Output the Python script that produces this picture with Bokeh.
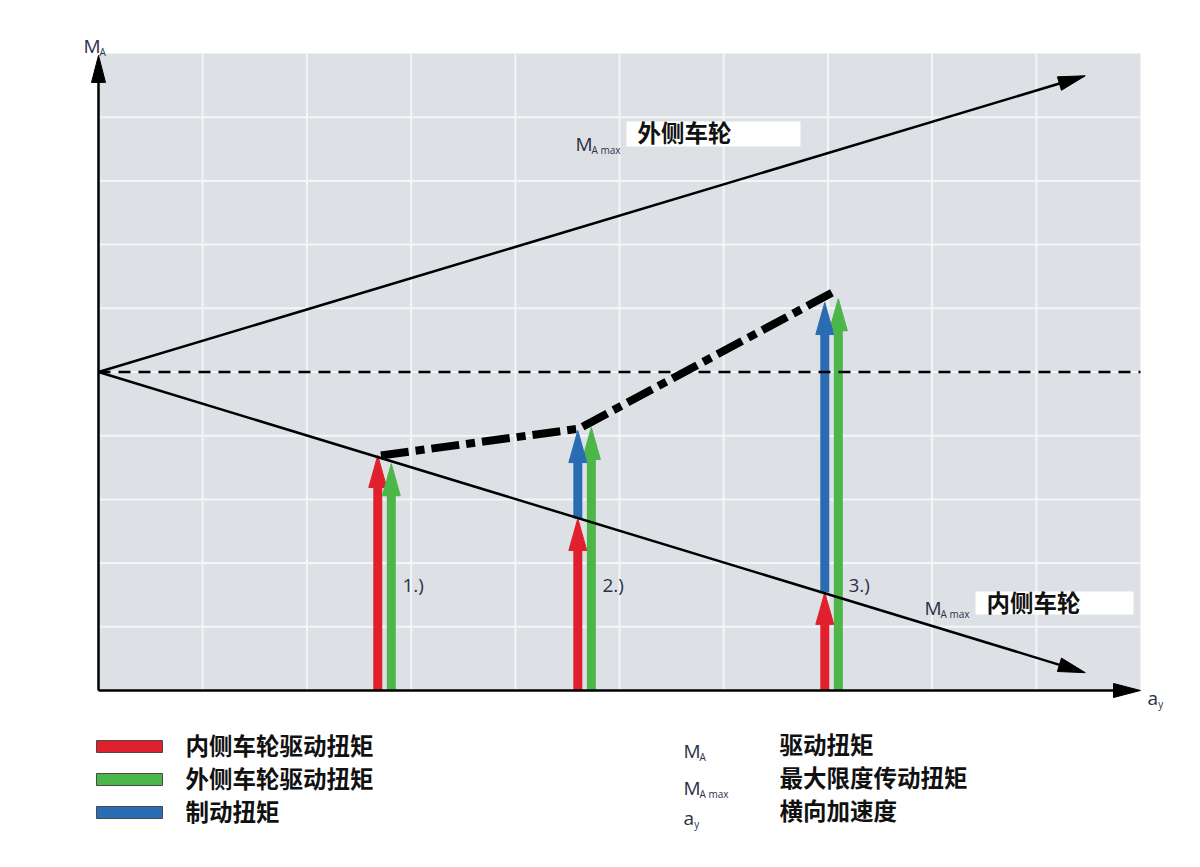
import math
from bokeh.plotting import figure
from bokeh.models import Range1d
from bokeh.core.properties import value
from bokeh.embed import file_html
from bokeh.resources import INLINE

# ---------------- data (diagram units: a_y on x, M_A on y, grid 0..10) ----------------
grid_ticks = [0, 1, 2, 3, 4, 5, 6, 7, 8, 9, 10]
axis_x_end = 10.0           # tip of a_y axis arrow
axis_y_end = 9.97           # tip of M_A axis arrow
start_level = 5.0           # M_A at a_y = 0
outer_max_end = (9.47, 9.65)   # M_A max outer wheel line end
inner_max_end = (9.47, 0.28)   # M_A max inner wheel line end
case_labels = ["1.)", "2.)", "3.)"]
inner_wheel_x = [2.68, 4.60, 6.97]
outer_wheel_x = [2.81, 4.73, 7.10]
inner_drive_torque = [3.69, 2.70, 1.54]
brake_torque_top = [None, 4.08, 6.09]
outer_drive_torque = [3.56, 4.13, 6.15]
resulting_x = [2.71, 4.61, 7.08]
resulting_y = [3.69, 4.11, 6.28]
legend_labels = ["内侧车轮驱动扭矩", "外侧车轮驱动扭矩", "制动扭矩"]
symbol_main = ["M", "M", "a"]
symbol_sub = ["A", "A max", "y"]
symbol_desc = ["驱动扭矩", "最大限度传动扭矩", "横向加速度"]
outer_label = "外侧车轮"
inner_label = "内侧车轮"

RED = "#e1202e"
GREEN = "#4cb649"
BLUE = "#2a6cb3"
GREY_BG = "#dde1e5"
GRID = "#f3f5f7"
TXT = "#2b3147"

# ---------------- layout ----------------
W, H = 1184, 851
PXX, PXY = 104.2, 63.7          # pixels per diagram unit
OX, OY = 98, 690                 # page pixel of diagram origin
PAGE0 = 0                        # page pixel where the figure starts


def X(px):
    return (px - OX) / PXX


def Y(py):
    return (OY - py) / PXY


p = figure(width=W, height=H, output_backend="svg", toolbar_location=None,
           x_axis_type=None, y_axis_type=None, min_border=0,
           x_range=Range1d(X(PAGE0), X(PAGE0 + W)), y_range=Range1d(Y(PAGE0 + H), Y(PAGE0)))
p.outline_line_color = None
p.background_fill_color = "white"
p.border_fill_color = "white"
p.grid.visible = False

# grey plotting area
p.quad(left=[grid_ticks[0]], right=[grid_ticks[-1]], bottom=[grid_ticks[0]], top=[grid_ticks[-1]],
       fill_color=GREY_BG, line_color=None)
inner_ticks = grid_ticks[1:-1]
p.segment(x0=inner_ticks, y0=[0] * len(inner_ticks), x1=inner_ticks, y1=[10] * len(inner_ticks),
          line_color=GRID, line_width=2)
p.segment(x0=[0] * len(inner_ticks), y0=inner_ticks, x1=[10] * len(inner_ticks), y1=inner_ticks,
          line_color=GRID, line_width=2)


def head(tx, ty, dx, dy, L, hw):
    ux_, uy_ = dx * PXX, dy * PXY
    n = math.hypot(ux_, uy_)
    ux_, uy_ = ux_ / n, uy_ / n
    bx, by = -ux_ * L, -uy_ * L
    qx, qy = -uy_ * hw, ux_ * hw
    xs = [tx, tx + (bx + qx) / PXX, tx + (bx - qx) / PXX]
    ys = [ty, ty + (by + qy) / PXY, ty + (by - qy) / PXY]
    back = (tx + bx * 0.9 / PXX, ty + by * 0.9 / PXY)
    return xs, ys, back


def arrow(x0, y0, x1, y1, color, width, L, hw):
    xs, ys, back = head(x1, y1, x1 - x0, y1 - y0, L, hw)
    p.segment(x0=[x0], y0=[y0], x1=[back[0]], y1=[back[1]], line_color=color,
              line_width=width, line_cap="butt")
    p.patch(xs, ys, fill_color=color, line_color=color, line_width=1)


# coloured torque arrows
for i in range(len(case_labels)):
    arrow(inner_wheel_x[i], 0, inner_wheel_x[i], inner_drive_torque[i], RED, 9, 32, 9)
    arrow(outer_wheel_x[i], 0, outer_wheel_x[i], outer_drive_torque[i], GREEN, 9, 32, 9)
    if brake_torque_top[i] is not None:
        arrow(inner_wheel_x[i], inner_drive_torque[i], inner_wheel_x[i], brake_torque_top[i], BLUE, 9, 32, 9)

# dashed zero-level line
p.line([0, 10], [start_level, start_level], line_color="black", line_width=2.5, line_dash="12 8")

# M_A max lines
arrow(0, start_level, outer_max_end[0], outer_max_end[1], "black", 2.5, 27, 7)
arrow(0, start_level, inner_max_end[0], inner_max_end[1], "black", 2.5, 27, 7)

# axes
arrow(0, 0, axis_x_end, 0, "black", 2.5, 27, 7)
arrow(0, 0, 0, axis_y_end, "black", 2.5, 27, 7)

# resulting torque (dash-dot)
p.line(resulting_x, resulting_y, line_color="black", line_width=8, line_dash="28 7 9 7",
       line_cap="butt", line_join="miter")

LAT = value("Open Sans")
CJK = value("Noto Sans CJK SC")
CJK_SIZE = "23.5px"


def sym(x, yb, main, sub, size=19, subsize=10, color=TXT, gap=0):
    p.text(x=[X(x)], y=[Y(yb)], text=[main], text_font=LAT, text_font_size=f"{size}px",
           text_color=color, text_baseline="alphabetic", text_align="left")
    w = size * (0.84 if main == "M" else 0.56)
    p.text(x=[X(x + w + gap)], y=[Y(yb + 6)], text=[sub], text_font=LAT, text_font_size=f"{subsize}px",
           text_color=color, text_baseline="alphabetic", text_align="left")


# axis labels
sym(83, 45, "M", "A", size=19)
sym(1147, 697, "a", "y", size=19)

# M_A max labels with white boxes
sym(575, 143, "M", "A max")
p.quad(left=[X(626)], right=[X(800)], top=[Y(121)], bottom=[Y(146)], fill_color="white", line_color=None)
p.text(x=[X(637)], y=[Y(131)], text=[outer_label], text_font=CJK, text_font_style="bold",
       text_font_size=CJK_SIZE, text_color="#111111", text_baseline="middle", text_align="left")

sym(924, 607, "M", "A max")
p.quad(left=[X(975)], right=[X(1133)], top=[Y(591)], bottom=[Y(614)], fill_color="white", line_color=None)
p.text(x=[X(986)], y=[Y(601)], text=[inner_label], text_font=CJK, text_font_style="bold",
       text_font_size=CJK_SIZE, text_color="#111111", text_baseline="middle", text_align="left")

# case labels
p.text(x=[X(402), X(602), X(848)], y=[Y(584)] * 3, text=case_labels, text_font=LAT,
       text_font_size="19px", text_color=TXT, text_baseline="alphabetic", text_align="left")

# legend (left column)
bar_tops = [740, 773, 806]
bar_colors = [RED, GREEN, BLUE]
p.quad(left=[X(96)] * 3, right=[X(162)] * 3, top=[Y(t) for t in bar_tops],
       bottom=[Y(t + 12) for t in bar_tops], fill_color=bar_colors, line_color="#4a4a4a", line_width=1)
p.text(x=[X(185)] * 3, y=[Y(t + 4) for t in bar_tops], text=legend_labels, text_font=CJK,
       text_font_style="bold", text_font_size=CJK_SIZE, text_color="#111111",
       text_baseline="middle", text_align="left")

# symbol table (right column)
sym_base = [750, 787, 817]
for m, s, b in zip(symbol_main, symbol_sub, sym_base):
    sym(683, b, m, s)
p.text(x=[X(779)] * 3, y=[Y(743), Y(776), Y(809)], text=symbol_desc, text_font=CJK,
       text_font_style="bold", text_font_size=CJK_SIZE, text_color="#111111",
       text_baseline="middle", text_align="left")

open("out.html", "w").write(file_html(p, INLINE))
